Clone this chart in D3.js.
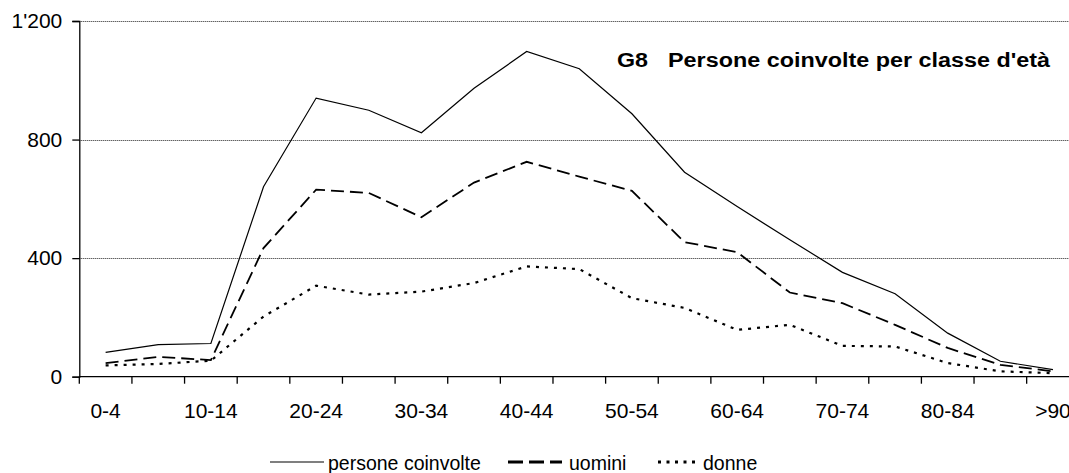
<!DOCTYPE html>
<html>
<head>
<meta charset="utf-8">
<script src="https://cdn.jsdelivr.net/npm/d3@7"></script>
<style>
  html, body { margin: 0; padding: 0; background: #fff; }
  svg { display: block; }
  text { font-family: "Liberation Sans", Arial, sans-serif; fill: #000; }
</style>
</head>
<body>
<svg id="chart" width="1069" height="473"></svg>
<script>
const categories = ["0-4","5-9","10-14","15-19","20-24","25-29","30-34","35-39","40-44","45-49","50-54","55-59","60-64","65-69","70-74","75-79","80-84","85-89",">90"];
const persone = [82,108,112,641,940,899,823,973,1097,1039,887,690,574,462,352,280,147,52,24];
const uomini  = [46,67,56,434,631,620,538,655,725,675,627,454,420,284,248,175,97,40,18];
const donne   = [38,43,54,203,307,277,287,316,372,363,265,232,158,175,104,102,46,18,12];
const yTicks = [0, 400, 800, 1200];
const seriesNames = ["persone coinvolte", "uomini", "donne"];
const titleCode = "G8";
const titleText = "Persone coinvolte per classe d'età";

const svg = d3.select("#chart");
const W = 1069, H = 473;
svg.append("rect").attr("width", W).attr("height", H).attr("fill", "#fff");

const mLeft = 79.3, mRight = 1079.3, mTop = 21, mBottom = 376.7;
const x = d3.scaleBand().domain(categories).range([mLeft, mRight]).padding(0);
const y = d3.scaleLinear().domain([0, 1200]).range([mBottom, mTop]);
const cx = c => x(c) + x.bandwidth() / 2;

const locale = d3.formatLocale({decimal: ".", thousands: "'", grouping: [3], currency: ["", ""]});
const fmt = locale.format(",");

// gridlines
svg.append("g").selectAll("line").data(yTicks.filter(d => d > 0)).join("line")
  .attr("x1", mLeft).attr("x2", W)
  .attr("y1", d => Math.round(y(d)) + 0.5).attr("y2", d => Math.round(y(d)) + 0.5)
  .attr("stroke", "#222").attr("stroke-width", 1).attr("stroke-dasharray", "1,1");

// y axis
const yAxis = d3.axisLeft(y).tickValues(yTicks).tickSize(7).tickPadding(10).tickFormat(fmt);
const gy = svg.append("g").attr("transform", `translate(${mLeft},0)`).call(yAxis);
gy.select(".domain").attr("stroke", "#000").attr("stroke-width", 1.3);
gy.selectAll(".tick line").attr("stroke", "#000").attr("stroke-width", 1.3);
gy.selectAll(".tick text").attr("font-size", 21).attr("font-family", "Liberation Sans, Arial, sans-serif").attr("fill", "#000");

// x axis line
svg.append("line").attr("x1", mLeft).attr("x2", W).attr("y1", mBottom).attr("y2", mBottom)
  .attr("stroke", "#000").attr("stroke-width", 1.3);
// boundary ticks
const bounds = categories.map(c => x(c)).concat([x(categories[categories.length - 1]) + x.bandwidth()]);
svg.append("g").selectAll("line").data(bounds).join("line")
  .attr("x1", d => d).attr("x2", d => d).attr("y1", mBottom).attr("y2", mBottom + 7)
  .attr("stroke", "#000").attr("stroke-width", 1.3);
// x labels (every other)
svg.append("g").selectAll("text").data(categories.filter((c, i) => i % 2 === 0)).join("text")
  .attr("x", d => cx(d)).attr("y", 418)
  .attr("text-anchor", "middle").attr("font-size", 21)
  .text(d => d);

// lines
const line = d3.line().x((d, i) => cx(categories[i])).y(d => y(d));
const styles = [
  {data: persone, width: 1.2, dash: null},
  {data: uomini, width: 1.8, dash: "13,6"},
  {data: donne, width: 2.2, dash: "3,6"}
];
styles.forEach(s => {
  svg.append("path").datum(s.data).attr("d", line)
    .attr("fill", "none").attr("stroke", "#000")
    .attr("stroke-width", s.width)
    .attr("stroke-dasharray", s.dash);
});

// title
svg.append("text").attr("x", 617).attr("y", 67).attr("font-size", 19.5).attr("font-weight", "bold")
  .attr("textLength", 31).attr("lengthAdjust", "spacingAndGlyphs").text(titleCode);
svg.append("text").attr("x", 668).attr("y", 67).attr("font-size", 19.5).attr("font-weight", "bold")
  .attr("textLength", 382).attr("lengthAdjust", "spacingAndGlyphs").text(titleText);

// legend
const legendItems = [
  {name: seriesNames[0], x1: 270, x2: 324, tx: 328, width: 1.2, dash: null},
  {name: seriesNames[1], x1: 508, x2: 562, tx: 569, width: 3, dash: "15,6"},
  {name: seriesNames[2], x1: 658, x2: 695, tx: 703, width: 3, dash: "3,5.5"}
];
const lg = svg.append("g");
legendItems.forEach(it => {
  lg.append("line").attr("x1", it.x1).attr("x2", it.x2).attr("y1", 462).attr("y2", 462)
    .attr("stroke", "#000").attr("stroke-width", it.width).attr("stroke-dasharray", it.dash);
  lg.append("text").attr("x", it.tx).attr("y", 470).attr("font-size", 19.5).text(it.name);
});
</script>
</body>
</html>
